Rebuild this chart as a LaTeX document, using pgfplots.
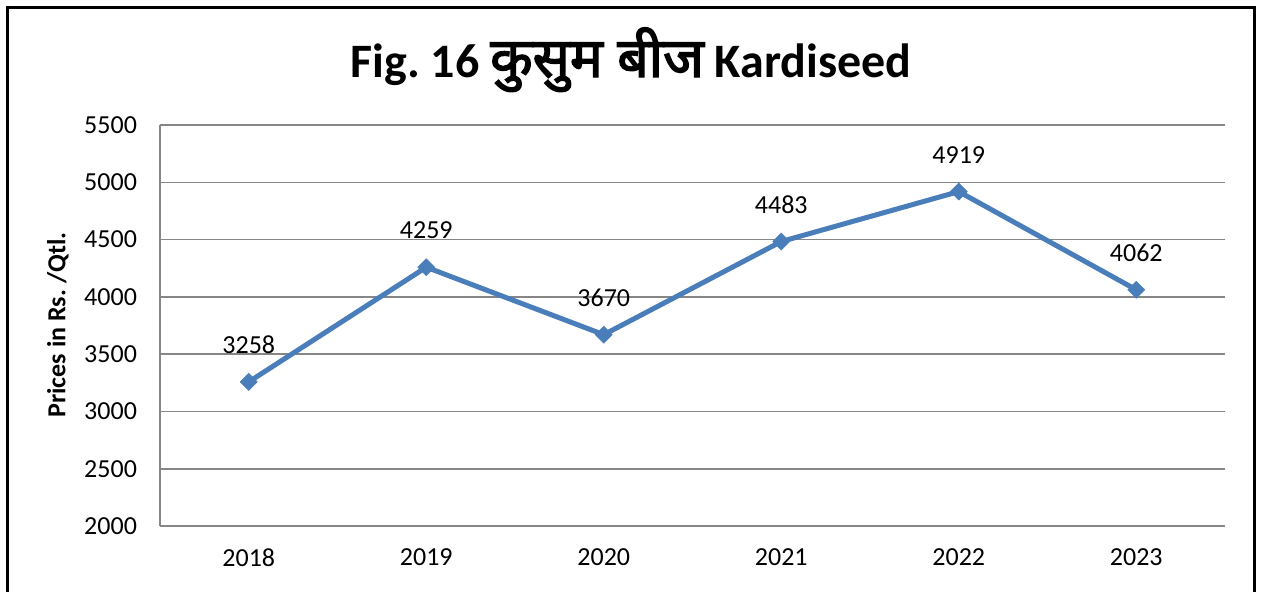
\documentclass[border=0pt]{standalone}
\usepackage{fontspec}
\usepackage{pgfplots}
\pgfplotsset{compat=1.18}
\setmainfont{Carlito}
\newfontfamily\devfont[Script=Devanagari, AutoFakeBold=2.5, Scale=1.15]{Noto Sans}
\definecolor{lineblue}{RGB}{74,126,187}
\definecolor{gridgray}{RGB}{134,134,134}
\frenchspacing
\begin{document}
\begin{tikzpicture}
\begin{axis}[
  at={(80pt,-263pt)}, anchor=south west,
  width=532.5pt, height=200.5pt, scale only axis,
  xmin=-0.5, xmax=5.5, ymin=2000, ymax=5500,
  xtick={0,1,2,3,4,5},
  xticklabels={2018,2019,2020,2021,2022,2023},
  ytick={2000,2500,3000,3500,4000,4500,5000,5500},
  major tick length=0pt,
  axis lines=left,
  axis line style={-, draw=gridgray, line width=1.1pt},
  ymajorgrids, grid style={draw=gridgray, line width=0.8pt},
  ticklabel style={font=\fontsize{13}{15}\selectfont},
  yticklabel style={xshift=-8pt},
  xticklabel style={yshift=-8pt},
  /pgf/number format/assume math mode=true,
  yticklabel={\pgfmathprintnumber[fixed,1000 sep={}]{\tick}},
  clip=false,
  nodes near coords,
  nodes near coords style={font=\fontsize{13}{15}\selectfont, anchor=center, yshift=18.5pt, text=black},
  point meta=explicit symbolic,
]
\addplot[color=lineblue, line width=2.5pt, mark=square*, mark size=3pt,
  mark options={rotate=45, fill=lineblue, draw=lineblue, line width=0.3pt}]
  coordinates {(0,3258)[3258] (1,4259)[4259] (2,3670)[3670] (3,4483)[4483] (4,4919)[4919] (5,4062)[4062]};
\end{axis}
\node[anchor=base, font=\bfseries\fontsize{24}{27}\selectfont] at (315.5pt,-38.5pt)
  {Fig. 16 {\devfont कुसुम बीज} Kardiseed};
\node[rotate=90, font=\bfseries\fontsize{13}{15}\selectfont] at (29pt,-162.5pt) {Prices in Rs. /Qtl.};
\begin{scope}
\clip (0pt,0pt) rectangle (631pt,-295.5pt);
\draw[line width=1.3pt] (3.75pt,-3.75pt) rectangle (627.25pt,-400pt);
\end{scope}
\pgfresetboundingbox
\useasboundingbox (0pt,0pt) rectangle (631pt,-295.5pt);
\end{tikzpicture}
\end{document}
